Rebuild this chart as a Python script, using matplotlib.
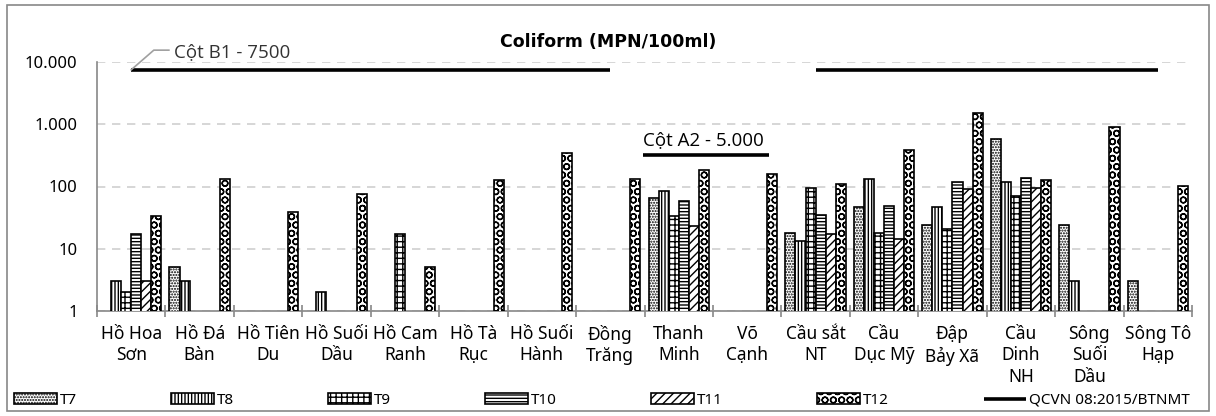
import matplotlib
matplotlib.use("Agg")
import matplotlib.pyplot as plt
import matplotlib.patches as mpatches
import numpy as np

# station names (x categories)
stations = ["Hồ Hoa\nSơn", "Hồ Đá\nBàn", "Hồ Tiên\nDu", "Hồ Suối\nDầu", "Hồ Cam\nRanh",
            "Hồ Tà\nRục", "Hồ Suối\nHành", "Đồng\nTrăng", "Thanh\nMinh", "Võ\nCạnh",
            "Cầu sắt\nNT", "Cầu\nDục Mỹ", "Đập\nBảy Xã", "Cầu\nDinh\nNH", "Sông\nSuối\nDầu",
            "Sông Tô\nHạp"]

nan = np.nan
# Coliform per month (MPN/100ml), nan = no bar
t7 = [nan, 5, nan, nan, nan, nan, nan, nan, 66, nan, 18, 46, 24, 570, 24, 3]
t8 = [3, 3, nan, 2, nan, nan, nan, nan, 85, nan, 13.5, 134, 46, 116, 3, nan]
t9 = [2, nan, nan, nan, 17, nan, nan, nan, 33, nan, 96, 18, 21, 71, nan, nan]
t10 = [17, nan, nan, nan, nan, nan, nan, nan, 58, nan, 35, 48, 116, 139, nan, nan]
t11 = [3, nan, nan, nan, nan, nan, nan, nan, 23, nan, 17, 14.5, 91, 96, nan, nan]
t12 = [34, 130, 39, 77, 5, 126, 349, 134, 185, 161, 109, 386, 1520, 128, 900, 100]
qcvn = [7500] * 8 + [nan, nan] + [7500] * 6

months = ["T7", "T8", "T9", "T10", "T11", "T12"]
hatches = ["......", "|||||", "+++", "-----", "////", "OO"]

yticks = [1, 10, 100, 1000, 10000]
ytick_labels = ["1", "10", "100", "1.000", "10.000"]

plt.rcParams['font.family'] = ['Noto Sans', 'DejaVu Sans']
plt.rcParams['hatch.linewidth'] = 1.0

fig = plt.figure(figsize=(12.16, 4.16), dpi=100)
ax = fig.add_axes([97 / 1216, 105 / 416, 1095 / 1216, 249 / 416])

x = np.arange(len(stations))
w = 1 / 6.8
series = [t7, t8, t9, t10, t11, t12]
bars = []
for k, vals in enumerate(series):
    b = ax.bar(x + (k - 2.5) * w, vals, width=w, bottom=0.001, color='white',
               edgecolor='black', linewidth=1.2, hatch=hatches[k], label=months[k], zorder=3)
    bars.append(b)

line, = ax.plot(x, qcvn, color='black', linewidth=2.6, zorder=4, label="QCVN 08:2015/BTNMT",
                solid_capstyle='butt')

ax.set_yscale('log')
ax.set_ylim(1, 10000)
ax.set_xlim(-0.5, len(stations) - 0.5)
ax.set_yticks(yticks)
ax.set_yticklabels(ytick_labels)
ax.minorticks_off()
ax.yaxis.grid(True, color='#d0d0d0', linestyle=(0, (5, 4)), linewidth=1.2)
ax.set_axisbelow(True)

ax.set_xticks(x)
ax.set_xticklabels(stations, fontsize=12.5, linespacing=1.25)
ax.set_xticks(np.arange(len(stations) + 1) - 0.5, minor=True)
ax.tick_params(axis='x', which='major', length=0, pad=10)
ax.tick_params(axis='x', which='minor', length=8, direction='inout', color='#888888', width=1.2)
ax.tick_params(axis='y', length=0, pad=14, labelsize=12)

for s in ['top', 'right']:
    ax.spines[s].set_visible(False)
for s in ['left', 'bottom']:
    ax.spines[s].set_color('#888888')
    ax.spines[s].set_linewidth(1.2)

# annotations
ax.text(0.62, 14500, "Cột B1 - 7500", fontsize=13.5, family='Open Sans',
        color='#333333', va='center', ha='left', clip_on=False)
ax.plot([0, 0.33, 0.55], [7500, 15500, 15500], color='#a0a0a0', linewidth=1.2,
        clip_on=False, zorder=5)
ax.text(8.36, 560, "Cột A2 - 5.000", fontsize=13.5, family='Open Sans',
        color='black', va='center', ha='center')
ax.plot([7.48, 9.32], [320, 320], color='black', linewidth=2.6, solid_capstyle='butt')

fig.text(0.5, 0.9, "Coliform (MPN/100ml)", fontsize=12.5, fontweight='bold',
         family='DejaVu Sans', ha='center', va='center')

handles = bars + [line]
labels = months + ["QCVN 08:2015/BTNMT"]
leg = fig.legend(handles, labels, loc='center', ncol=7, frameon=False,
                 bbox_to_anchor=(0.0, 0.0, 0.99, 0.075), mode='expand',
                 fontsize=11, handlelength=2.8, handleheight=0.7, handletextpad=0.2)

fig.patches.append(mpatches.Rectangle((0.006, 0.012), 0.988, 0.976, transform=fig.transFigure,
                                      fill=False, edgecolor='#888888', linewidth=1.2))

fig.savefig("out.png", dpi=100)
